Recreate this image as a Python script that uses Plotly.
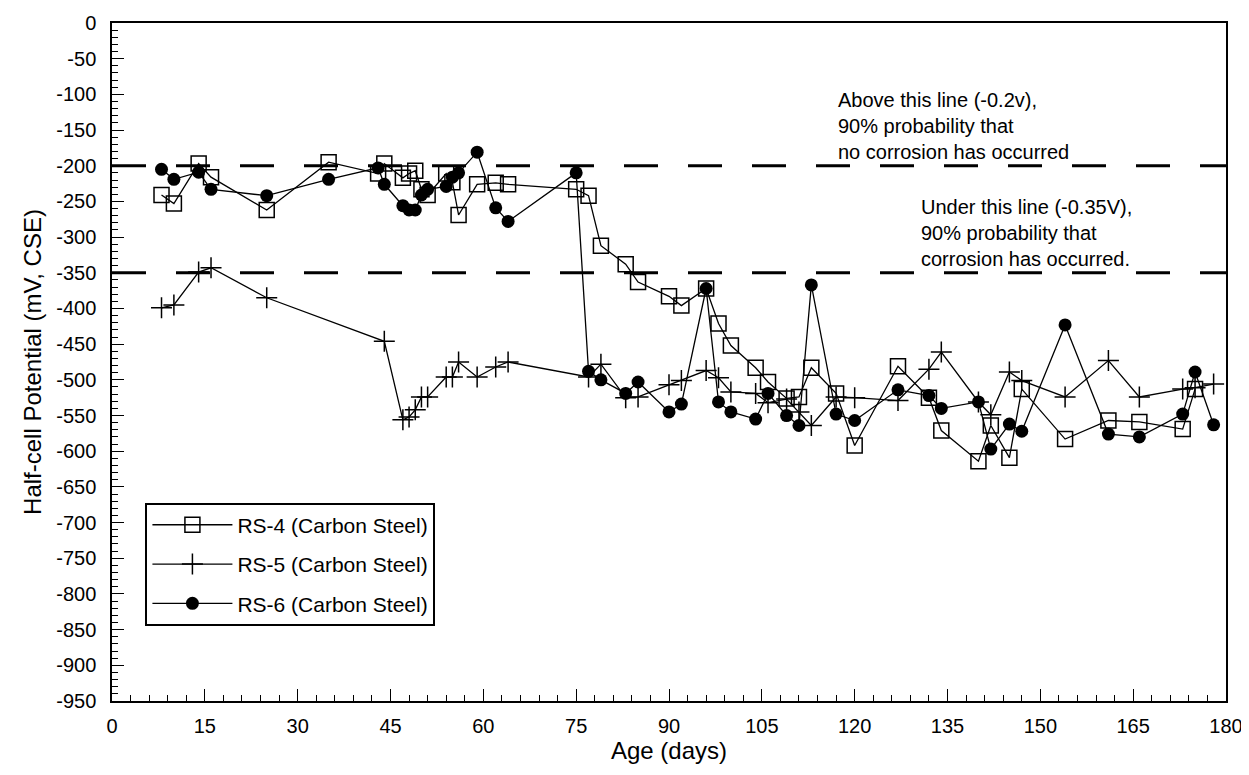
import plotly.graph_objects as go

rs4_days = [8, 10, 14, 16, 25, 35, 43, 44, 47, 48, 49, 50, 51, 54, 55, 56, 59, 62, 64, 75, 77, 79, 83, 85, 90, 92, 96, 98, 100, 104, 106, 109, 111, 113, 117, 120, 127, 132, 134, 140, 142, 145, 147, 154, 161, 166, 173, 175]
rs4_mv = [-241, -253, -197, -216, -262, -195, -211, -197, -217, -211, -207, -233, -241, -211, -223, -269, -226, -224, -226, -233, -242, -312, -338, -363, -383, -396, -372, -421, -452, -483, -503, -526, -524, -483, -519, -592, -481, -525, -571, -614, -564, -609, -513, -583, -557, -559, -569, -513]

rs5_days = [8, 10, 14, 16, 25, 44, 47, 48, 49, 50, 51, 54, 55, 56, 59, 62, 64, 77, 79, 83, 85, 90, 92, 96, 98, 100, 104, 106, 109, 111, 113, 117, 120, 127, 132, 134, 140, 142, 145, 147, 154, 161, 166, 173, 175, 178]
rs5_mv = [-399, -395, -349, -343, -385, -446, -556, -552, -542, -524, -524, -496, -496, -475, -496, -482, -475, -496, -478, -525, -524, -507, -501, -487, -497, -517, -519, -532, -527, -545, -564, -524, -525, -529, -485, -461, -531, -549, -489, -501, -524, -473, -524, -513, -511, -506]

rs6_days = [8, 10, 14, 16, 25, 35, 43, 44, 47, 48, 49, 50, 51, 54, 55, 56, 59, 62, 64, 75, 77, 79, 83, 85, 90, 92, 96, 98, 100, 104, 106, 109, 111, 113, 117, 120, 127, 132, 134, 140, 142, 145, 147, 154, 161, 166, 173, 175, 178]
rs6_mv = [-205, -219, -209, -233, -242, -219, -203, -226, -256, -262, -262, -241, -233, -229, -216, -210, -181, -259, -278, -210, -488, -500, -519, -503, -545, -534, -372, -531, -545, -555, -519, -550, -564, -367, -548, -557, -514, -522, -540, -531, -597, -562, -572, -423, -576, -580, -548, -489, -563]

threshold_levels = [-200, -350]
series_names = ["RS-4 (Carbon Steel)", "RS-5 (Carbon Steel)", "RS-6 (Carbon Steel)"]
note_above = "Above this line (-0.2v),<br>90% probability that<br>no corrosion has occurred"
note_under = "Under this line (-0.35V),<br>90% probability that<br>corrosion has occurred."

y_tick_vals = [0, -50, -100, -150, -200, -250, -300, -350, -400, -450, -500, -550, -600, -650, -700, -750, -800, -850, -900, -950]
y_tick_text = ["0", "-50", "-100", "-150", "-200", "-250", "-300", "-350", "-400", "-450", "-500", "-550", "-600", "-650", "-700", "-750", "-800", "-850", "-900", "-950"]
x_tick_vals = [0, 15, 30, 45, 60, 75, 90, 105, 120, 135, 150, 165, 180]

FONT = "Liberation Sans, Arial, sans-serif"

fig = go.Figure()

for lvl in threshold_levels:
    fig.add_trace(go.Scatter(x=[0, 180], y=[lvl, lvl], mode="lines",
                             line=dict(color="black", width=3, dash="34px,30px"),
                             showlegend=False, hoverinfo="skip"))

fig.add_trace(go.Scatter(x=rs4_days, y=rs4_mv, mode="lines+markers", name=series_names[0],
                         legendgroup="a",
                         line=dict(color="black", width=1.3),
                         marker=dict(symbol="square-open", size=15, color="black", line=dict(width=1.5))))
fig.add_trace(go.Scatter(x=rs5_days, y=rs5_mv, mode="lines+markers", name=series_names[1],
                         legendgroup="b",
                         line=dict(color="black", width=1.3),
                         marker=dict(symbol="cross-thin-open", size=15, color="black", line=dict(width=1.5))))
fig.add_trace(go.Scatter(x=rs6_days, y=rs6_mv, mode="lines+markers", name=series_names[2],
                         legendgroup="c",
                         line=dict(color="black", width=1.3),
                         marker=dict(symbol="circle", size=13, color="black")))

fig.add_annotation(x=117, y=-144, xref="x", yref="y", text=note_above, showarrow=False,
                   xanchor="left", yanchor="middle", align="left",
                   font=dict(family=FONT, size=20, color="black"))
fig.add_annotation(x=130.4, y=-294, xref="x", yref="y", text=note_under, showarrow=False,
                   xanchor="left", yanchor="middle", align="left",
                   font=dict(family=FONT, size=20, color="black"))

fig.update_layout(
    width=1240, height=766,
    margin=dict(l=104, r=22, t=4, b=73),
    paper_bgcolor="white", plot_bgcolor="white",
    font=dict(family=FONT, color="black"),
    legend=dict(x=0.03, y=1 - 672 / 950, xanchor="left", yanchor="top",
                bgcolor="white", bordercolor="black", borderwidth=2,
                font=dict(family=FONT, size=21, color="black"),
                traceorder="grouped", tracegroupgap=9, itemwidth=80),
)
fig.update_xaxes(range=[0, 180], tickmode="array", tickvals=x_tick_vals,
                 ticks="inside", ticklen=12, tickwidth=1.3, tickcolor="black",
                 minor=dict(tickmode="linear", tick0=0, dtick=3, ticks="inside", ticklen=6, tickwidth=1.3, tickcolor="black"),
                 showline=True, linecolor="black", linewidth=1.5, mirror=True,
                 showgrid=False, zeroline=False, ticklabelstandoff=6, ticklabeloverflow="allow",
                 tickfont=dict(family=FONT, size=20, color="black"),
                 title=dict(text="Age (days)", font=dict(family=FONT, size=24, color="black"), standoff=4))
fig.update_yaxes(range=[-950, 0], tickmode="array", tickvals=y_tick_vals, ticktext=y_tick_text,
                 ticks="inside", ticklen=12, tickwidth=1.3, tickcolor="black",
                 minor=dict(tickmode="linear", tick0=0, dtick=10, ticks="inside", ticklen=6, tickwidth=1.3, tickcolor="black"),
                 showline=True, linecolor="black", linewidth=1.5, mirror=True,
                 showgrid=False, zeroline=False, ticklabelstandoff=10, ticklabeloverflow="allow",
                 tickfont=dict(family=FONT, size=20, color="black"),
                 title=dict(text="Half-cell Potential (mV, CSE)", font=dict(family=FONT, size=24, color="black"), standoff=8))

fig.write_html("out.html")
